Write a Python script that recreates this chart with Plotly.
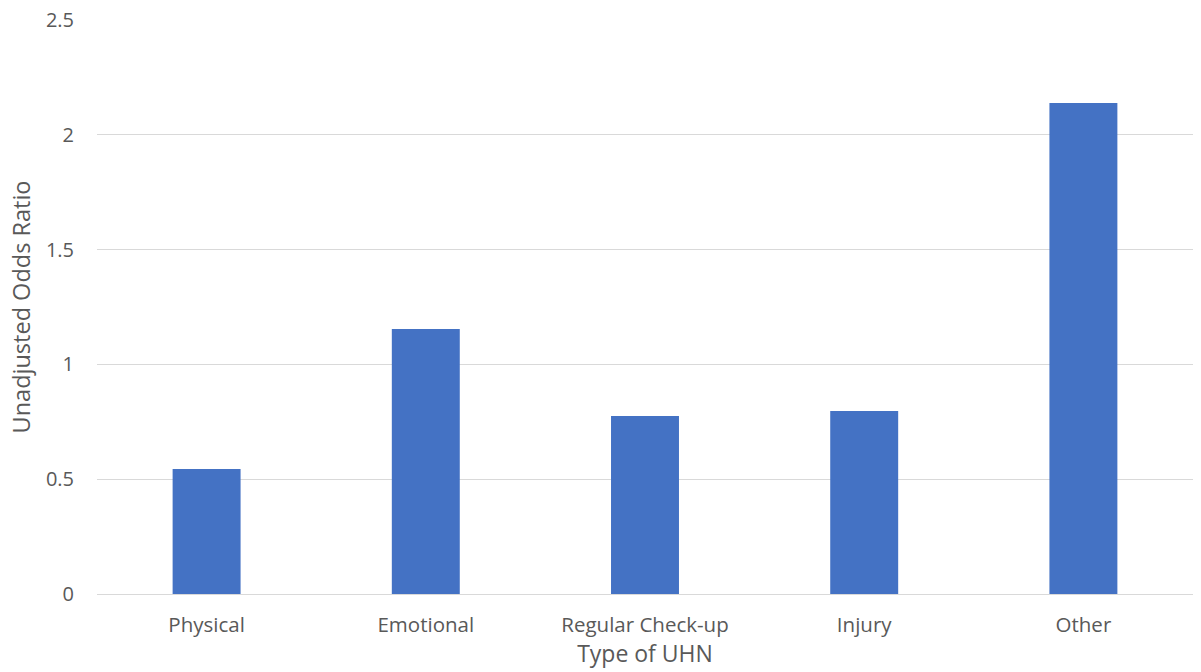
import plotly.graph_objects as go

categories = ["Physical", "Emotional", "Regular Check-up", "Injury", "Other"]
odds_ratios = [0.544, 1.154, 0.775, 0.797, 2.138]
y_ticks = [0, 0.5, 1, 1.5, 2, 2.5]
y_tick_labels = ["0", "0.5", "1", "1.5", "2", "2.5"]

fig = go.Figure(go.Bar(
    x=categories, y=odds_ratios,
    marker=dict(color="#4472C4", line=dict(width=0)),
    width=0.31,
))

font_family = "Open Sans, Liberation Sans, sans-serif"
fig.update_layout(
    width=1201, height=672,
    margin=dict(l=97, r=8, t=20, b=78),
    paper_bgcolor="white", plot_bgcolor="white",
    font=dict(family=font_family, color="#595959", size=20),
    showlegend=False,
    xaxis=dict(
        title=dict(text="Type of UHN", font=dict(size=23, color="#595959"), standoff=4),
        showgrid=False, showline=False, ticks="", ticklabelstandoff=16,
        tickfont=dict(size=20.5, color="#595959"), automargin=False,
    ),
    yaxis=dict(
        title=dict(text="Unadjusted Odds Ratio", font=dict(size=23.5, color="#595959"), standoff=8),
        range=[0, 2.5], tickvals=y_ticks, ticktext=y_tick_labels,
        showgrid=True, gridcolor="#D9D9D9", gridwidth=1.3,
        zeroline=True, zerolinecolor="#D9D9D9", zerolinewidth=1.3,
        showline=False, ticks="", ticklabelstandoff=22,
        tickfont=dict(size=20, color="#595959"), automargin=False,
    ),
)

fig.write_html("out.html")
